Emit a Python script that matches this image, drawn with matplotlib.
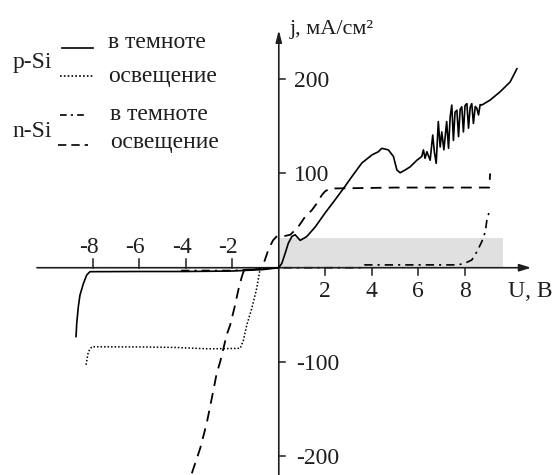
import matplotlib
matplotlib.use('Agg')
import matplotlib.pyplot as plt
from matplotlib.lines import Line2D

plt.rcParams['font.family'] = ['Liberation Serif', 'DejaVu Serif']

# ---- data (U in V, j in mA/cm^2) ----
p_dark_u = [-8.72, -8.69, -8.62, -8.55, -8.40, -8.26, -8.12, -6.0, -4.0, -2.0, -0.7, 0.0,
            0.13, 0.27, 0.41, 0.56, 0.70, 0.92, 1.20, 1.56, 1.99, 2.42, 2.78, 3.14, 3.57,
            4.00, 4.28, 4.43, 4.71, 4.93, 5.08, 5.22, 5.43, 5.65, 5.94, 6.15, 6.22, 6.29,
            6.37, 6.51, 6.62, 6.69, 6.77, 6.86, 6.94, 7.01, 7.10, 7.22, 7.30, 7.37, 7.44,
            7.51, 7.58, 7.66, 7.73, 7.80, 7.87, 7.94, 8.01, 8.09, 8.16, 8.23, 8.30, 8.37,
            8.45, 8.52, 8.59, 8.66, 8.73, 9.09, 9.52, 9.95, 10.24]
p_dark_j = [-73, -59, -41, -29, -16.5, -7.7, -4.2, -4, -4, -3.5, -2, 0,
            4.6, 15, 26, 33, 35, 29, 33, 43, 58, 72, 84, 96.5, 111,
            119.5, 123, 126.6, 125, 118, 103.6, 100.7, 103.6, 107, 114, 118, 125, 116,
            123, 114, 140.7, 123, 110.7, 155, 128, 144, 125, 155, 126.6, 160, 172.5,
            135, 165, 167, 139, 168, 170.7, 144, 172, 174, 148, 170, 174, 153,
            171, 169, 162, 173, 172.5, 177.8, 186.6, 197, 211]

p_light_u = [-8.29, -8.19, -8.04, -6.0, -4.5, -3.0, -1.66, -1.52, -1.38, -1.16, -0.95, -0.80, 0.0]
p_light_j = [-103, -89, -83.8, -84, -84.5, -86, -85.5, -76.7, -61, -43, -22, -0.6, 0]

n_dark_u = [-4.2, -2.0, 0.0, 3.6, 3.7, 7.7, 8.0, 8.30, 8.52, 8.73, 8.88, 8.95, 9.09]
n_dark_j = [-3, -3, 0, 0, 3, 3, 4.7, 8.2, 17, 27.6, 38, 50.6, 63]

n_light_u = [-3.74, -3.38, -3.10, -2.81, -2.67, -2.52, -2.38, -2.24, -2.09, -1.88, -1.74,
             -1.59, -1.50, -0.75, -0.60, -0.45, -0.25, -0.10, 0.15, 0.50, 0.84, 1.13,
             1.42, 1.63, 1.85, 1.99, 2.20, 5.0, 9.05, 9.09]
n_light_j = [-218, -191.5, -165, -129.7, -112, -99.7, -85.5, -71, -60.8, -39.6, -23.6,
             -9.5, -3, -1, 8, 19, 29, 33, 33, 35, 43.5, 54,
             61, 68, 77, 81, 84, 85, 85, 100]

shade_u = [0.0, 9.65]
shade_top = 32

x_ticks_neg = [-8, -6, -4, -2]
x_ticks_pos = [2, 4, 6, 8]
y_ticks = [200, 100, -100, -200]

legend_groups = ['p-Si', 'n-Si']
legend_labels = ['в темноте', 'освещение', 'в темноте', 'освещение']

# ---- figure ----
W, H = 552, 475
fig = plt.figure(figsize=(W / 100, H / 100), dpi=100)
ax = fig.add_axes([0, 0, 1, 1])
ax.set_xlim(-11.99, 11.75)
ax.set_ylim(-219.8, 283.9)
ax.axis('off')

UPX = 1 / 23.25   # volts per pixel
JPX = 1 / 0.943   # mA/cm2 per pixel
ink = '#1e1e1e'
fs = 17

def P(x, y):
    return x / W, 1 - y / H

ax.fill_between(shade_u, 0, shade_top, color='#e0e0e0', lw=0, zorder=1)

# axes with arrows
ax.annotate('', xy=(10.85, 0), xytext=(-10.4, 0),
            arrowprops=dict(arrowstyle='-|>,head_length=0.7,head_width=0.22',
                            color=ink, lw=1.2, shrinkA=0, shrinkB=0), zorder=3)
ax.annotate('', xy=(0, 252), xytext=(0, -230),
            arrowprops=dict(arrowstyle='-|>,head_length=0.7,head_width=0.18',
                            color=ink, lw=1.2, shrinkA=0, shrinkB=0), zorder=3)

for t in x_ticks_neg:
    ax.plot([t, t], [0, 9 * JPX], color=ink, lw=1.1, zorder=3)
    ax.text(t - 4 * UPX, 15 * JPX, str(t), ha='center', va='baseline',
            fontsize=fs, color=ink)
for t in x_ticks_pos:
    ax.plot([t, t], [0, -7.5 * JPX], color=ink, lw=1.1, zorder=3)
    ax.text(t, -29 * JPX, str(t), ha='center', va='baseline',
            fontsize=fs, color=ink)
for t in y_ticks:
    ax.plot([0, 6 * UPX], [t, t], color=ink, lw=1.1, zorder=3)
    dx = 15 if t > 0 else 17
    ax.text(dx * UPX, t - 8 * JPX, str(t), ha='left', va='baseline',
            fontsize=fs, color=ink)

fig.text(*P(290, 34), 'j, мА/см²', ha='left', va='baseline', fontsize=16, color=ink)
fig.text(*P(508, 297), 'U, В', ha='left', va='baseline', fontsize=fs, color=ink)

# curves
ax.plot(p_dark_u, p_dark_j, color='black', lw=1.2, ls='-', zorder=4)
ax.plot(p_light_u, p_light_j, color='black', lw=1.1, ls=(0, (1, 1.3)), zorder=4)
ax.plot(n_dark_u, n_dark_j, color='black', lw=1.2, ls=(0, (5, 3, 1.3, 3)), zorder=2)
ax.plot(n_light_u, n_light_j, color='black', lw=1.3, ls=(0, (6, 4)), zorder=4)

# legend
styles = ['-', (0, (1, 1.3)), (0, (4, 2.5, 1.3, 2.5)), (0, (5, 3))]
sample_x = [(62, 93), (60, 93), (60, 88), (58, 88)]
sample_y = [48, 76, 115, 145]
text_y = [48, 82, 120, 148]
text_x = [108, 108, 110, 110]
for i in range(4):
    (x0, x1), yy = sample_x[i], sample_y[i]
    fig.add_artist(Line2D([x0 / W, x1 / W], [1 - yy / H, 1 - yy / H],
                          color='black', lw=1.2, ls=styles[i], transform=fig.transFigure))
    fig.text(*P(text_x[i], text_y[i]), legend_labels[i], ha='left', va='baseline',
             fontsize=fs, color=ink)
fig.text(*P(13, 68), legend_groups[0], ha='left', va='baseline', fontsize=fs, color=ink)
fig.text(*P(12, 137), legend_groups[1], ha='left', va='baseline', fontsize=fs, color=ink)

fig.savefig('out.png', dpi=100)
